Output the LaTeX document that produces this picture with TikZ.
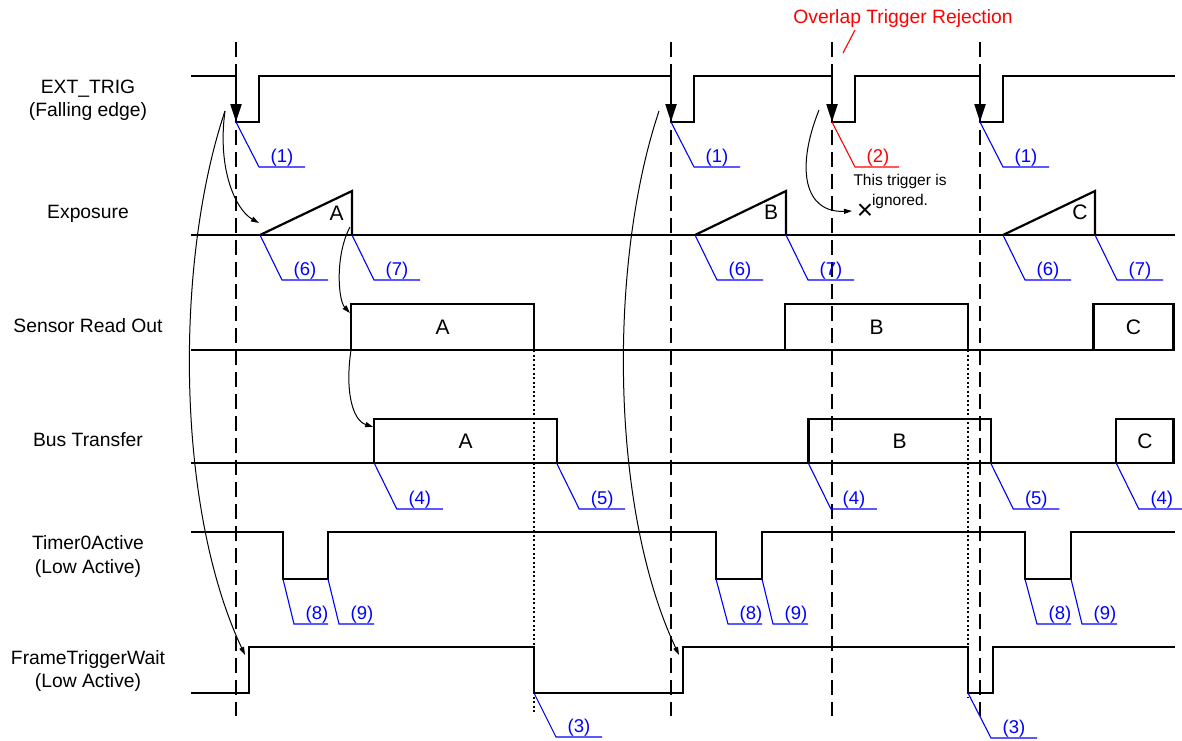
\documentclass[tikz,border=0pt]{standalone}
\usepackage{fontspec}
\setmainfont{Liberation Sans}
\usepackage{tikz}
\usetikzlibrary{arrows.meta,positioning,calc}
\definecolor{leadblue}{RGB}{0,0,255}
\definecolor{rejred}{RGB}{255,0,0}

\begin{document}
\begin{tikzpicture}[x=1pt, y=-1pt]
\tikzstyle{lbl} = [font=\fontsize{19.3}{23.5}\selectfont, align=center, inner sep=0]
\tikzstyle{sig} = [line width=2.2pt, line join=miter]
\tikzstyle{box} = [rectangle, draw, line width=2.2pt, inner sep=0, font=\fontsize{21}{24}\selectfont]
\tikzstyle{letter} = [inner sep=0, font=\fontsize{21}{24}\selectfont]
\tikzstyle{trig} = [line width=1.8pt, dash pattern=on 15pt off 7pt]
\tikzstyle{dots} = [line width=1.8pt, dash pattern=on 2pt off 2.5pt]
\tikzstyle{lead} = [leadblue, line width=1.1pt]
\tikzstyle{num} = [text=leadblue, font=\fontsize{18.5}{22}\selectfont, anchor=base, inner sep=0, xshift=23pt, yshift=5pt]
\tikzstyle{flow} = [line width=1pt, -{Triangle[length=8pt,width=5pt]}]
\tikzstyle{fall} = [line width=2.2pt, -{Triangle[length=18pt,width=11pt]}]
\useasboundingbox (0,0) rectangle (1182,740);

% signal names
\node [lbl] (exttrig) at (88,100.3) {EXT\_TRIG\\(Falling edge)};
\node [lbl, anchor=base] (expo) at (88,218.9) {Exposure};
\node [lbl, anchor=base] (sensor) at (88,332.9) {Sensor Read Out};
\node [lbl, anchor=base] (bus) at (88,446.9) {Bus Transfer};
\node [lbl] (timer) at (88,556.7) {Timer0Active\\(Low Active)};
\node [lbl] (ftw) at (88,670.8) {FrameTriggerWait\\(Low Active)};

% trigger instants
\draw [trig] (236,42) -- (236,716);
\draw [trig] (671,42) -- (671,716);
\draw [trig] (832,42) -- (832,716);
\draw [trig] (980,42) -- (980,716);
\draw [dots] (534,350) -- (534,712);
\draw [dots] (968,350) -- (968,697);

% EXT_TRIG
\draw [sig] (191,76) -- (236,76) -- (236,122) -- (259,122) -- (259,76) -- (671,76) -- (671,122) -- (694,122) -- (694,76)
  -- (832,76) -- (832,122) -- (855,122) -- (855,76) -- (980,76) -- (980,122) -- (1003,122) -- (1003,76) -- (1175,76);
\draw [fall] (236,76) -- (236,122);
\draw [fall] (671,76) -- (671,122);
\draw [fall] (832,76) -- (832,122);
\draw [fall] (980,76) -- (980,122);

% Exposure
\draw [sig] (191,235) -- (1175,235);
\draw [sig] (260,235) -- (352,191) -- (352,235);
\draw [sig] (695,235) -- (786,191) -- (786,235);
\draw [sig] (1003,235) -- (1095,191) -- (1095,235);
\node [letter] (expA) at (336.7,213.3) {A};
\node [letter] (expB) at (771,212.7) {B};
\node [letter] (expC) at (1080,212.7) {C};

% Sensor Read Out
\draw [sig] (191,350) -- (1175,350);
\node [box, minimum width=183pt, minimum height=46pt] (roA) at (442.5,327) {A};
\node [box, minimum width=182.3pt, minimum height=46pt] (roB) at (876.5,327) {B};
\node [box, minimum width=80pt, minimum height=46pt] (roC) at (1133.5,327) {C};

% Bus Transfer
\draw [sig] (191,463.3) -- (1175,463.3);
\node [box, minimum width=182.4pt, minimum height=44.3pt] (btA) at (465.5,441.2) {A};
\node [box, minimum width=182.4pt, minimum height=44.3pt] (btB) at (899.6,441.2) {B};
\node [box, minimum width=57.2pt, minimum height=44.3pt] (btC) at (1144.9,441.2) {C};

% Timer0Active
\draw [sig] (191,532) -- (283,532) -- (283,579) -- (328,579) -- (328,532) -- (716,532) -- (716,579) -- (762,579) -- (762,532)
  -- (1025,532) -- (1025,579) -- (1071,579) -- (1071,532) -- (1175,532);

% FrameTriggerWait
\draw [sig] (191,693) -- (249,693) -- (249,647) -- (534,647) -- (534,693) -- (683,693) -- (683,647) -- (968,647)
  -- (968,693) -- (993,693) -- (993,647) -- (1175,647);

% causal arrows
\coordinate (src1) at (225,111);
\coordinate (src2) at (659,111);
\coordinate (src3) at (819,110);
\draw [flow] (src1) .. controls (175,260) and (175,506) .. (245,655);
\draw [flow] (src1) .. controls (217,170) and (236,210) .. (259,223);
\draw [flow] (src2) .. controls (609,260) and (609,506) .. (679,655);
\draw [flow] (350,227) .. controls (335,255) and (338,300) .. (roA.west |- 0,313);
\draw [flow] (351,350) .. controls (345,390) and (352,420) .. (btA.west |- 0,427);
\draw [flow] (src3) .. controls (795,170) and (805,213) .. (852,211);
\node [inner sep=0, font=\fontsize{28}{30}\selectfont] (cross) at (865,212) {×};

% overlap rejection
\node [text=rejred, font=\fontsize{19.3}{23}\selectfont, inner sep=0] (rej) at (903,18.3) {Overlap Trigger Rejection};
\draw [rejred, line width=1.1pt] (855,30) -- (843,53);
\node [font=\fontsize{15.5}{20}\selectfont, align=center, inner sep=0] (ignored) at (900,191) {This trigger is\\ignored.};

% numbered callouts
\draw [lead] (236,122) -- ++(23,45) node [num] (c1a) {(1)} -- ++(46,0);
\draw [lead] (671,122) -- ++(23,45) node [num] (c1b) {(1)} -- ++(46,0);
\draw [rejred, line width=1.1pt] (832,122) -- ++(23,45) node [num, text=rejred] (c2) {(2)} -- ++(44,0);
\draw [lead] (980,122) -- ++(23,45) node [num] (c1c) {(1)} -- ++(46,0);

\draw [lead] (260,235) -- ++(22,45) node [num] (c6a) {(6)} -- ++(46,0);
\draw [lead] (352,235) -- ++(22,45) node [num] (c7a) {(7)} -- ++(46,0);
\draw [lead] (695,235) -- ++(22,45) node [num] (c6b) {(6)} -- ++(46,0);
\draw [lead] (786,235) -- ++(22,45) node [num] (c7b) {(7)} -- ++(46,0);
\draw [lead] (1003,235) -- ++(22,45) node [num] (c6c) {(6)} -- ++(46,0);
\draw [lead] (1095,235) -- ++(22,45) node [num] (c7c) {(7)} -- ++(46,0);

\draw [lead] (374.3,463.3) -- ++(22.5,45.7) node [num] (c4a) {(4)} -- ++(46,0);
\draw [lead] (556.7,463.3) -- ++(22.5,45.7) node [num] (c5a) {(5)} -- ++(46,0);
\draw [lead] (808.4,463.3) -- ++(22.5,45.7) node [num] (c4b) {(4)} -- ++(46,0);
\draw [lead] (990.8,463.3) -- ++(22.5,45.7) node [num] (c5b) {(5)} -- ++(46,0);
\draw [lead] (1116.3,463.3) -- ++(22.5,45.7) node [num] (c4c) {(4)} -- ++(43,0);

\draw [lead] (283,579) -- ++(11,45) node [num] (c8a) {(8)} -- ++(34,0);
\draw [lead] (328,579) -- ++(11,45) node [num] (c9a) {(9)} -- ++(35,0);
\draw [lead] (716,579) -- ++(12,45) node [num] (c8b) {(8)} -- ++(34,0);
\draw [lead] (762,579) -- ++(11,45) node [num] (c9b) {(9)} -- ++(35,0);
\draw [lead] (1025,579) -- ++(12,45) node [num] (c8c) {(8)} -- ++(34,0);
\draw [lead] (1071,579) -- ++(11,45) node [num] (c9c) {(9)} -- ++(35,0);

\draw [lead] (534,693) -- ++(22,44) node [num] (c3a) {(3)} -- ++(46,0);
\draw [lead] (968,693) -- ++(23,45) node [num] (c3b) {(3)} -- ++(46,0);
\end{tikzpicture}
\end{document}
